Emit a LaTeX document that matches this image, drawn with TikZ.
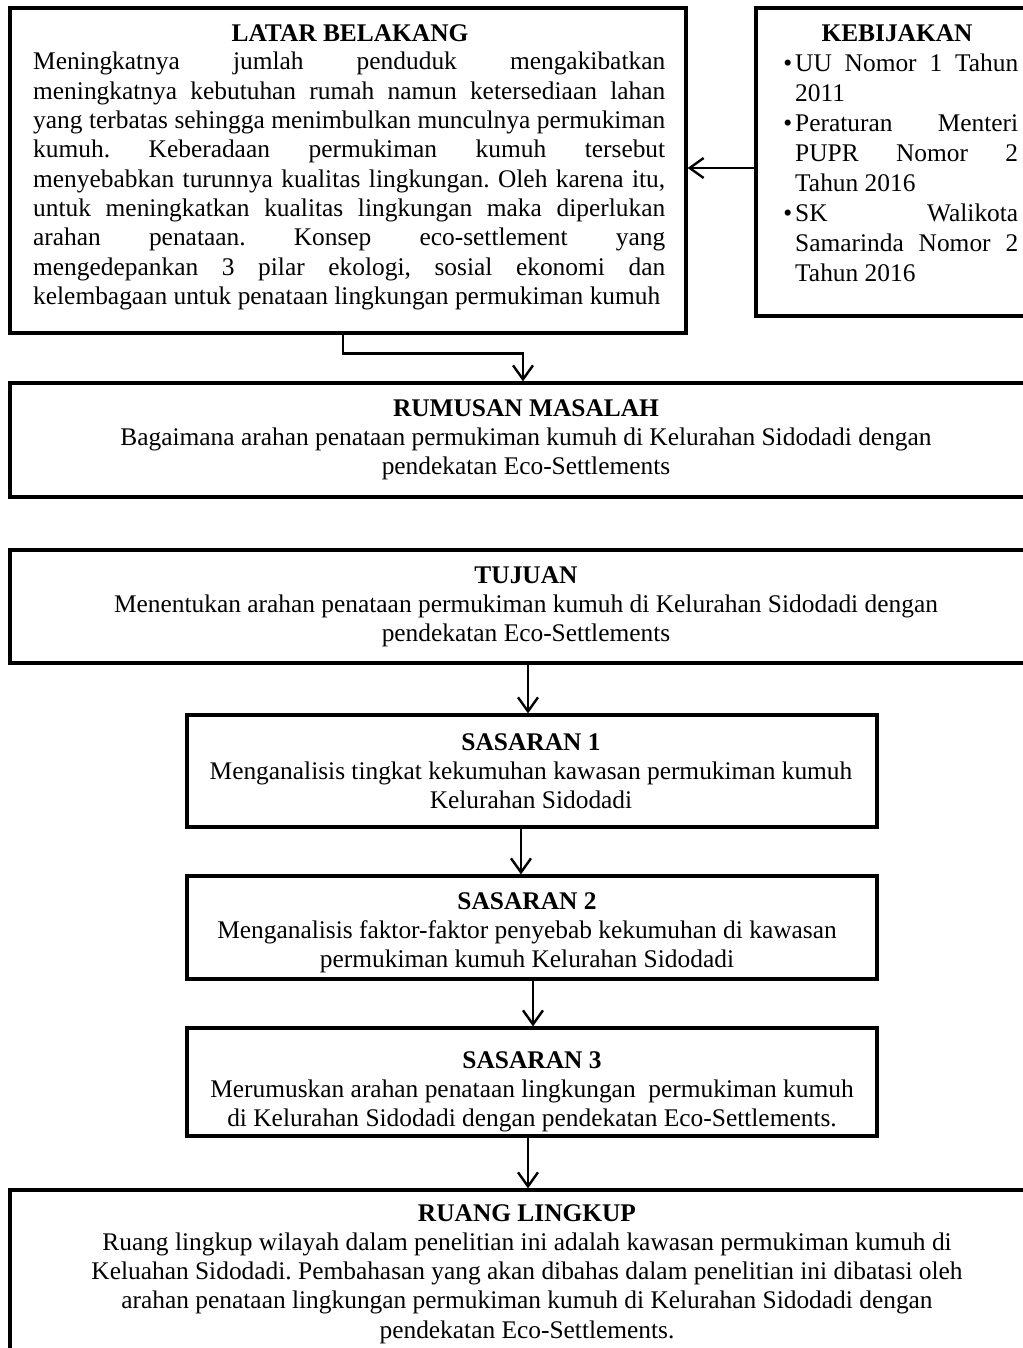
\documentclass[tikz,border=0pt]{standalone}
\usepackage{fontspec}
\setmainfont{Liberation Serif}
\usetikzlibrary{arrows.meta,calc}
\frenchspacing
\newcommand\fsz{\fontsize{25.4}{29.3}\selectfont}
\newcommand\fsk{\fontsize{25.4}{30}\selectfont}
\newcommand\jl[1]{\makebox[632pt][s]{#1}}
\newcommand\jk[1]{\makebox[223pt][s]{#1}}
\newcommand\bul{\leavevmode\llap{\textbullet\hspace{3pt}}}
\begin{document}
\begin{tikzpicture}[x=1pt,y=-1pt,font=\fsz,
  boxst/.style={draw,line width=3.2pt,inner sep=0,rectangle},
  txt/.style={inner sep=0,anchor=base},
  arr/.style={line width=2.4pt,-{Straight Barb[length=14pt,width=20pt,line width=2.4pt]}}]
\useasboundingbox (0,0) rectangle (1022,1348);
\fill[white] (0,0) rectangle (1022,1348);
% boxes
\node[boxst,minimum width=676pt,minimum height=325pt] (lat) at (348,170.5) {};
\node[boxst,minimum width=304pt,minimum height=308pt] (keb) at (908,162) {};
\node[boxst,minimum width=1030pt,minimum height=114pt] (rum) at (525,440) {};
\node[boxst,minimum width=1030pt,minimum height=113pt] (tuj) at (525,606.5) {};
\node[boxst,minimum width=690pt,minimum height=112pt] (s1) at (532,771) {};
\node[boxst,minimum width=690pt,minimum height=103pt] (s2) at (532,927.5) {};
\node[boxst,minimum width=690pt,minimum height=108pt] (s3) at (532,1082) {};
\node[boxst,minimum width=1030pt,minimum height=190pt] (rl) at (525,1285) {};
% latar belakang
\node[txt] (latT) at (350,42) {\textbf{LATAR BELAKANG}};
\node[txt,anchor=base west] (latB) at (33,70) {\parbox[t]{632pt}{%
\jl{Meningkatnya jumlah penduduk mengakibatkan}\\
\jl{meningkatnya kebutuhan rumah namun ketersediaan lahan}\\
\jl{yang terbatas sehingga menimbulkan munculnya permukiman}\\
\jl{kumuh. Keberadaan permukiman kumuh tersebut}\\
\jl{menyebabkan turunnya kualitas lingkungan. Oleh karena itu,}\\
\jl{untuk meningkatkan kualitas lingkungan maka diperlukan}\\
\jl{arahan penataan. Konsep eco-settlement yang}\\
\jl{mengedepankan 3 pilar ekologi, sosial ekonomi dan}\\
kelembagaan untuk penataan lingkungan permukiman kumuh}};
% kebijakan
\node[txt] (kebT) at (897,42) {\textbf{KEBIJAKAN}};
\node[txt,anchor=base west,font=\fsk] (kebB) at (795,72) {\parbox[t]{223pt}{%
\bul\jk{UU Nomor 1 Tahun}\\
2011\\
\bul\jk{Peraturan Menteri}\\
\jk{PUPR Nomor 2}\\
Tahun 2016\\
\bul\jk{SK Walikota}\\
\jk{Samarinda Nomor 2}\\
Tahun 2016}};
% centred boxes
\node[txt] (rumT) at (526,416) {\parbox[t]{1000pt}{\centering\textbf{RUMUSAN MASALAH}\\
Bagaimana arahan penataan permukiman kumuh di Kelurahan Sidodadi dengan\\
pendekatan Eco-Settlements}};
\node[txt] (tujT) at (526,583) {\parbox[t]{1000pt}{\centering\textbf{TUJUAN}\\
Menentukan arahan penataan permukiman kumuh di Kelurahan Sidodadi dengan\\
pendekatan Eco-Settlements}};
\node[txt] (s1T) at (531,750) {\parbox[t]{680pt}{\centering\textbf{SASARAN 1}\\
Menganalisis tingkat kekumuhan kawasan permukiman kumuh\\
Kelurahan Sidodadi}};
\node[txt] (s2T) at (527,909) {\parbox[t]{680pt}{\centering\textbf{SASARAN 2}\\
Menganalisis faktor-faktor penyebab kekumuhan di kawasan\\
permukiman kumuh Kelurahan Sidodadi}};
\node[txt] (s3T) at (532,1068) {\parbox[t]{680pt}{\centering\textbf{SASARAN 3}\\
Merumuskan arahan penataan lingkungan\ \ permukiman kumuh\\
di Kelurahan Sidodadi dengan pendekatan Eco-Settlements.}};
\node[txt] (rlT) at (527,1221) {\parbox[t]{1000pt}{\centering\textbf{RUANG LINGKUP}\\
Ruang lingkup wilayah dalam penelitian ini adalah kawasan permukiman kumuh di\\
Keluahan Sidodadi. Pembahasan yang akan dibahas dalam penelitian ini dibatasi oleh\\
arahan penataan lingkungan permukiman kumuh di Kelurahan Sidodadi dengan\\
pendekatan Eco-Settlements.}};
% connectors
\draw[arr] ([yshift=2.5pt]keb.west |- lat.east) -- ([yshift=2.5pt]lat.east);
\draw[arr] ([xshift=-5pt]lat.south) -- ++(0,19) -| ([xshift=-2pt]rum.north);
\draw[arr] ([xshift=3pt]tuj.south) -- ([xshift=3pt]tuj.south |- s1.north);
\draw[arr] ([xshift=-11pt]s1.south) -- ([xshift=-11pt]s2.north);
\draw[arr] ([xshift=1pt]s2.south) -- ([xshift=1pt]s3.north);
\draw[arr] ([xshift=-4pt]s3.south) -- ([xshift=-4pt]s3.south |- rl.north);
\end{tikzpicture}
\end{document}
